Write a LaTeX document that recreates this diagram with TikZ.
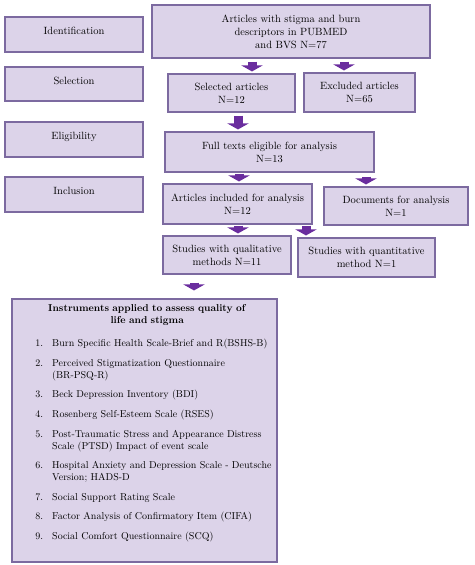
\documentclass[tikz,border=0pt]{standalone}
\usepackage{tikz}
\usetikzlibrary{arrows.meta, positioning}
\definecolor{boxfill}{HTML}{DCD3E9}
\definecolor{boxline}{HTML}{7C6AA0}
\definecolor{arrowcol}{HTML}{6A2D9E}

\begin{document}
\begin{tikzpicture}[x=1pt, y=-1pt]
    \tikzstyle{every node}=[font=\fontsize{10.5}{13}\selectfont]
    \tikzstyle{box}=[rectangle, draw=boxline, fill=boxfill, line width=1.1pt, align=center, inner sep=2pt]
    \tikzstyle{stage}=[box, minimum width=138pt, minimum height=35pt, text depth=7pt]
    \tikzstyle{flowarrow}=[draw=arrowcol, line width=9pt, -{Triangle[width=21pt, length=6pt]}, arrowcol, shorten <=3pt, shorten >=2pt]
    \useasboundingbox (0,0) rectangle (474,565);
    \node [stage] (ident) at (74,34.5) {Identification};
    \node [stage, minimum height=34pt] (selection) at (74,84) {Selection};
    \node [stage] (eligib) at (74,139.5) {Eligibility};
    \node [stage] (inclusion) at (74,194.5) {Inclusion};
    \node [box, minimum width=278pt, minimum height=53pt] (pubmed) at (291,31.5)
      {Articles with stigma and burn\\ descriptors in PUBMED\\ and BVS N=77};
    \node [box, minimum width=127pt, minimum height=38pt] (selected) at (231.5,93) {Selected articles\\ N=12};
    \node [box, minimum width=111pt, minimum height=39pt] (excluded) at (359.5,92.5) {Excluded articles\\ N=65};
    \node [box, minimum width=209pt, minimum height=40pt] (fulltext) at (269.5,152) {Full texts eligible for analysis\\ N=13};
    \node [box, minimum width=149pt, minimum height=40pt] (included) at (237.5,204) {Articles included for analysis\\ N=12};
    \node [box, minimum width=144pt, minimum height=38pt] (documents) at (396,206) {Documents for analysis\\ N=1};
    \node [box, minimum width=128pt, minimum height=38pt] (qualit) at (227,255) {Studies with qualitative\\ methods N=11};
    \node [box, minimum width=137pt, minimum height=39pt] (quantit) at (366.5,257.5) {Studies with quantitative\\ method N=1};
    \node [box, minimum width=265pt, minimum height=263pt] (instr) at (144.5,430.5) {};
    \node [anchor=north west, text width=250pt, inner sep=0pt, align=left, font=\fontsize{10}{12}\selectfont] (instrlist) at (22,304.5)
      {\centering\textbf{Instruments applied to assess quality of}\\ \textbf{life and stigma}\par
       \begin{list}{\arabic{enumi}.}{\usecounter{enumi}\setlength{\leftmargin}{30pt}\setlength{\labelwidth}{15pt}%
         \setlength{\labelsep}{9pt}\setlength{\itemsep}{7.6pt}\setlength{\parsep}{0pt}\setlength{\topsep}{9pt}}\raggedright
       \item Burn Specific Health Scale-Brief and R(BSHS-B)
       \item Perceived Stigmatization Questionnaire\newline (BR-PSQ-R)
       \item Beck Depression Inventory (BDI)
       \item Rosenberg Self-Esteem Scale (RSES)
       \item Post-Traumatic Stress and Appearance Distress\newline Scale (PTSD) Impact of event scale
       \item Hospital Anxiety and Depression Scale - Deutsche\newline Version; HADS-D
       \item Social Support Rating Scale
       \item Factor Analysis of Confirmatory Item (CIFA)
       \item Social Comfort Questionnaire (SCQ)
       \end{list}};
    \draw [flowarrow] (pubmed.south -| 252,0) -- (selected.north -| 252,0);
    \draw [flowarrow] (pubmed.south -| 344,0) -- (excluded.north -| 344,0);
    \draw [flowarrow] (selected.south -| 238,0) -- (fulltext.north -| 238,0);
    \draw [flowarrow, shorten <=1pt] (fulltext.south -| 239,0) -- (included.north -| 239,0);
    \draw [flowarrow, shorten <=4pt] (fulltext.south -| 366,0) -- (documents.north -| 366,0);
    \draw [flowarrow, shorten <=1pt] (included.south -| 238,0) -- (qualit.north -| 238,0);
    \draw [flowarrow, shorten <=1pt] (included.south -| 306,0) -- (quantit.north -| 306,0);
    \draw [flowarrow, shorten <=8pt, shorten >=8pt] (qualit.south -| 194,0) -- (instr.north -| 194,0);
\end{tikzpicture}
\end{document}
